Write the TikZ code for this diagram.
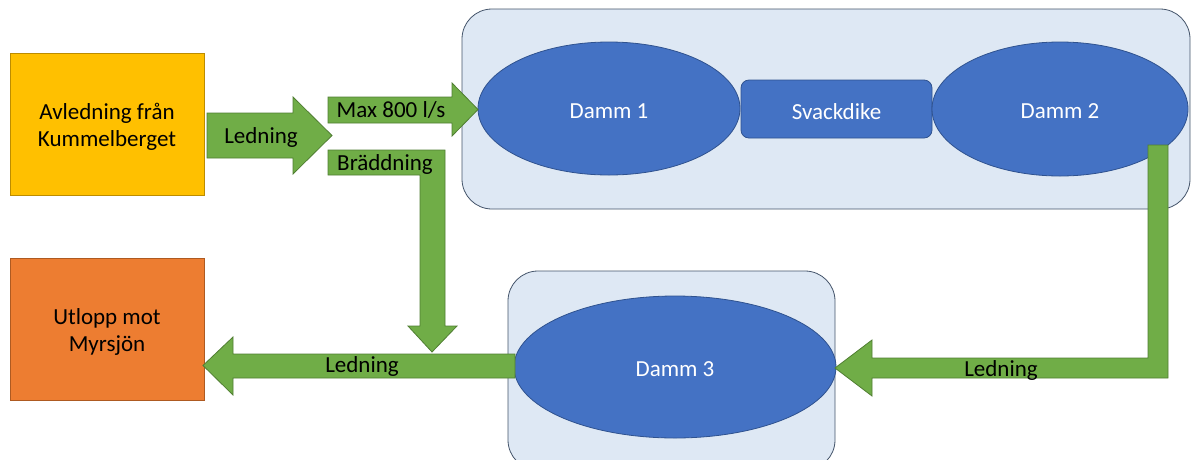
\documentclass[tikz,border=0pt]{standalone}
\usepackage{fontspec}
\setmainfont{Carlito}
\usetikzlibrary{shapes.geometric}
\definecolor{yel}{HTML}{FFC000}
\definecolor{yelb}{HTML}{BC8C00}
\definecolor{ora}{HTML}{ED7D31}
\definecolor{orab}{HTML}{AE5A21}
\definecolor{blu}{HTML}{4472C4}
\definecolor{blub}{HTML}{2F528F}
\definecolor{lblu}{HTML}{DEE8F4}
\definecolor{lblub}{HTML}{44546A}
\definecolor{grn}{HTML}{70AD47}
\definecolor{grnb}{HTML}{507E32}
\tikzset{
  txt/.style={font=\fontsize{23}{27}\selectfont, align=center},
  intext/.style={txt, inner sep=0pt, yshift=-2.5pt},
  srcbox/.style={draw=#1, line width=0.8pt, minimum width=194pt, minimum height=142pt, inner sep=0pt},
  container/.style={fill=lblu, draw=lblub, line width=0.8pt, rounded corners=30pt},
  pond/.style={ellipse, fill=blu, draw=blub, line width=0.8pt, inner sep=0pt},
  ditch/.style={rectangle, rounded corners=8pt, fill=blu, draw=blub, line width=0.8pt, inner sep=0pt, minimum width=191pt, minimum height=58pt},
  blockarrow/.style={fill=grn, draw=grnb, line width=0.8pt, line join=miter},
  lbl/.style={txt, text=black, inner sep=0pt}
}
\begin{document}
\begin{tikzpicture}[x=1pt,y=-1pt]
\useasboundingbox (0,0) rectangle (1191,459);
% containers
\draw[container] (462,9) rectangle (1190,209);
\draw[container] (508,271) rectangle (835,470);
% source / outlet boxes
\node[srcbox=yelb, fill=yel, label={[intext]center:Avledning från\\Kummelberget}] (avl) at (107,124) {};
\node[srcbox=orab, fill=ora, label={[intext]center:Utlopp mot\\Myrsjön}] (utl) at (107,329) {};
% ponds
\node[pond, minimum width=262pt, minimum height=133pt, label={[intext, text=white]center:Damm 1}] (d1) at (609,108.5) {};
\node[ditch, label={[intext, text=white]center:Svackdike}] (sv) at (836.5,109) {};
\node[pond, minimum width=256pt, minimum height=134pt, label={[intext, text=white]center:Damm 2}] (d2) at (1060,109) {};
\node[pond, minimum width=322pt, minimum height=142pt, label={[intext, text=white]center:Damm 3}] (d3) at (675,367) {};
% block arrows
\draw[blockarrow] (207,113) -- (293,113) -- (293,97) -- (332,135.5) -- (293,174) -- (293,158) -- (207,158) -- cycle;
\node[lbl] (l1) at (261,137) {Ledning};
\draw[blockarrow] (328,97) -- (452,97) -- (452,83) -- (478,109.5) -- (452,136) -- (452,123) -- (328,123) -- cycle;
\node[lbl] (l2) at (391,110) {Max 800 l/s};
\draw[blockarrow] (328,150) -- (445,150) -- (445,326) -- (457,326) -- (432,352) -- (408,326) -- (420,326) -- (420,175) -- (328,175) -- cycle;
\node[lbl] (l3) at (385,164) {Bräddning};
\draw[blockarrow] (515,354) -- (233,354) -- (233,337) -- (203,365.5) -- (233,395) -- (233,378) -- (515,378) -- cycle;
\node[lbl] (l4) at (362,366) {Ledning};
\draw[blockarrow] (1148,145) -- (1168,145) -- (1168,378) -- (872,378) -- (872,396) -- (835,368) -- (872,340) -- (872,358) -- (1148,358) -- cycle;
\node[lbl] (l5) at (1001,370) {Ledning};
\end{tikzpicture}
\end{document}
